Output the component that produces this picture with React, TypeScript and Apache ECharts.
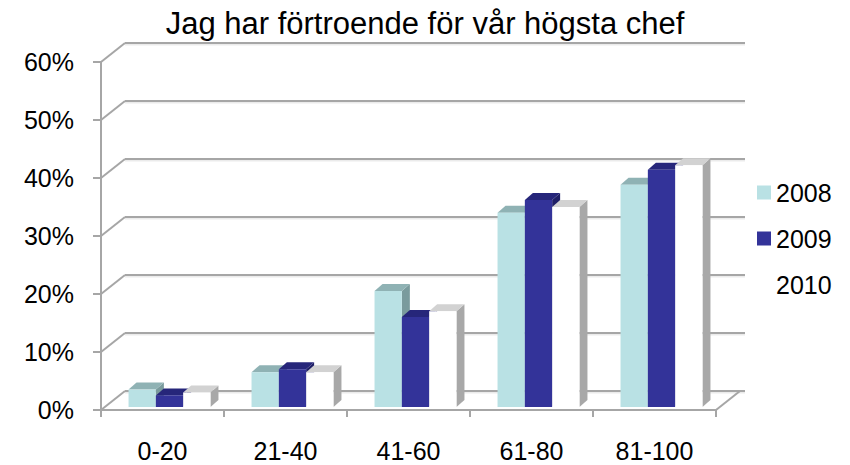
import React, { useEffect, useRef } from "react";
import * as echarts from "echarts";

const categories = ["0-20", "21-40", "41-60", "61-80", "81-100"];
const years = ["2008", "2009", "2010"];
const v2008 = [3, 6, 20, 33.5, 38.3];
const v2009 = [2, 6.5, 15.5, 35.7, 40.9];
const v2010 = [2.5, 6, 16.5, 34.5, 41.7];
const gridTicks = [0, 10, 20, 30, 40, 50, 60];

const front = ["#b9e1e4", "#333399", "#ffffff"];
const topFace = ["#8fb2b4", "#26267a", "#d2d2d2"];
const sideFace = ["#7a9b9d", "#1f1f66", "#a8a8a8"];

const FONT = "'Liberation Sans', Arial, sans-serif";
const GRAY = "#a6a6a6";
const DEPTH_X = 24;
const DEPTH_Y = -19;
const BACK_EXTRA = 5;

export default function App() {
  const ref = useRef<HTMLDivElement>(null);
  useEffect(() => {
    if (!ref.current) return;
    const chart = echarts.init(ref.current, undefined, { renderer: "svg" });
    const values = [v2008, v2009, v2010];

    const barSeries = years.map((y, s) => ({
      name: y,
      type: "custom",
      z: 5,
      itemStyle: { color: front[s] },
      data: values[s].map((v, i) => [i, v]),
      renderItem: (params: any, api: any) => {
        const i = api.value(0);
        const v = api.value(1);
        const c = api.coord([i, v]);
        const b = api.coord([i, 0]);
        const catW = api.size([1, 0])[0];
        const bw = catW * 0.222;
        const dx = 7, dy = -3;
        const bdx = 8, bdy = -7;
        const x0 = c[0] - 1.5 * bw + s * bw + dx;
        const top = c[1] + dy;
        const bottom = b[1] + dy;
        return {
          type: "group",
          children: [
            {
              type: "polygon",
              shape: { points: [[x0 + bw, top], [x0 + bw + bdx, top + bdy], [x0 + bw + bdx, bottom + bdy], [x0 + bw, bottom]] },
              style: { fill: sideFace[s] },
            },
            {
              type: "polygon",
              shape: { points: [[x0, top], [x0 + bw, top], [x0 + bw + bdx, top + bdy], [x0 + bdx, top + bdy]] },
              style: { fill: topFace[s] },
            },
            {
              type: "rect",
              shape: { x: x0, y: top, width: bw, height: bottom - top },
              style: { fill: front[s] },
            },
          ],
        };
      },
    }));

    const wallSeries = {
      name: "walls",
      type: "custom",
      z: 1,
      silent: true,
      data: gridTicks.map((t) => [0, t]),
      renderItem: (params: any, api: any) => {
        const cs = params.coordSys;
        const y = api.coord([0, api.value(1)])[1];
        const children: any[] = [
          {
            type: "line",
            shape: { x1: cs.x + DEPTH_X, y1: y + DEPTH_Y + 1.5, x2: cs.x + cs.width + DEPTH_X + BACK_EXTRA, y2: y + DEPTH_Y + 1.5 },
            style: { stroke: "rgba(0,0,0,0.08)", lineWidth: 2 },
          },
          {
            type: "line",
            shape: { x1: cs.x + DEPTH_X, y1: y + DEPTH_Y, x2: cs.x + cs.width + DEPTH_X + BACK_EXTRA, y2: y + DEPTH_Y },
            style: { stroke: GRAY, lineWidth: 2 },
          },
          {
            type: "line",
            shape: { x1: cs.x, y1: y, x2: cs.x + DEPTH_X, y2: y + DEPTH_Y },
            style: { stroke: GRAY, lineWidth: 2 },
          },
        ];
        if (api.value(1) === 0) {
          children.push({
            type: "line",
            shape: { x1: cs.x + cs.width, y1: y, x2: cs.x + cs.width + DEPTH_X, y2: y + DEPTH_Y },
            style: { stroke: GRAY, lineWidth: 2 },
          });
        }
        return { type: "group", children };
      },
    };

    chart.setOption({
      animation: false,
      textStyle: { fontFamily: FONT },
      title: {
        text: "Jag har förtroende för vår högsta chef",
        left: "center",
        top: 3,
        textStyle: { fontFamily: FONT, fontSize: 31, fontWeight: "normal", color: "#000" },
      },
      legend: {
        orient: "vertical",
        left: 752,
        top: 175,
        itemWidth: 14,
        itemHeight: 14,
        itemGap: 21,
        data: years.map((y) => ({ name: y, icon: "rect" })),
        textStyle: { fontFamily: FONT, fontSize: 25, color: "#000" },
        selectedMode: false,
      },
      grid: { left: 101, width: 615, top: 62, height: 348 },
      xAxis: {
        type: "category",
        data: categories,
        axisLine: { show: true, lineStyle: { color: GRAY, width: 2 } },
        axisTick: { show: true, length: 7, lineStyle: { color: GRAY, width: 2 } },
        axisLabel: { fontFamily: FONT, fontSize: 25, color: "#000", margin: 28 },
      },
      yAxis: {
        type: "value",
        min: 0,
        max: 60,
        interval: 10,
        axisLine: { show: true, lineStyle: { color: GRAY, width: 2 } },
        axisTick: { show: true, length: 8, lineStyle: { color: GRAY, width: 2 } },
        axisLabel: { fontFamily: FONT, fontSize: 25, color: "#000", margin: 27, formatter: "{value}%" },
        splitLine: { show: false },
      },
      series: [wallSeries, ...barSeries],
    });
    return () => chart.dispose();
  }, []);
  return <div ref={ref} style={{ position: "absolute", left: 0, top: 0, width: 850, height: 465 }} />;
}
